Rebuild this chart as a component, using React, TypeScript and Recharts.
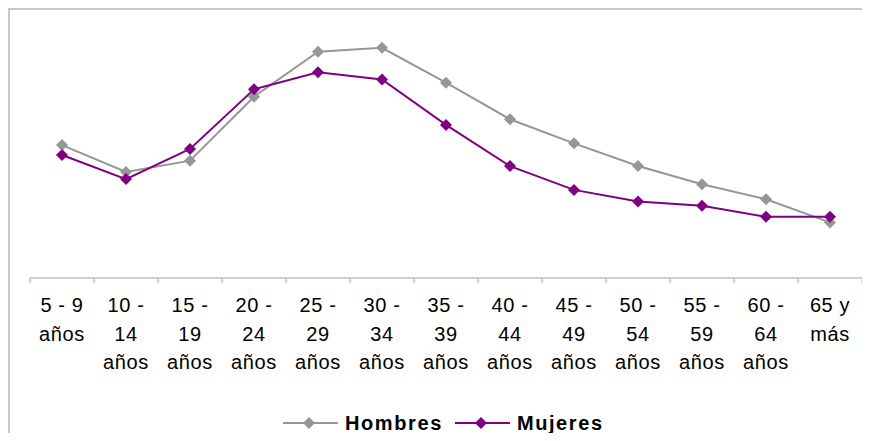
import React from 'react';
import { LineChart, Line, XAxis, YAxis } from 'recharts';

// age groups, one entry per category; lines shown under each tick
const ageGroups = [
  '5 - 9 años', '10 - 14 años', '15 - 19 años', '20 - 24 años', '25 - 29 años',
  '30 - 34 años', '35 - 39 años', '40 - 44 años', '45 - 49 años', '50 - 54 años',
  '55 - 59 años', '60 - 64 años', '65 y más',
];
const tickLines: string[][] = [
  ['5 - 9', 'años'], ['10 -', '14', 'años'], ['15 -', '19', 'años'], ['20 -', '24', 'años'],
  ['25 -', '29', 'años'], ['30 -', '34', 'años'], ['35 -', '39', 'años'], ['40 -', '44', 'años'],
  ['45 -', '49', 'años'], ['50 -', '54', 'años'], ['55 -', '59', 'años'], ['60 -', '64', 'años'],
  ['65 y', 'más'],
];

// estimated values (%)
const hombres = [6.09, 4.85, 5.37, 8.32, 10.4, 10.58, 8.97, 7.28, 6.17, 5.12, 4.28, 3.59, 2.52];
const mujeres = [5.63, 4.52, 5.91, 8.66, 9.45, 9.12, 7.02, 5.12, 4.02, 3.48, 3.29, 2.78, 2.78];

const boundaryTicks = [0, 1, 2, 3, 4, 5, 6, 7, 8, 9, 10, 11, 12, 13];

const GREY = '#969696';
const PURPLE = '#800080';
const FONT = '"Liberation Sans", Arial, sans-serif';

const data = ageGroups.map((name, i) => ({
  name,
  idx: i,
  hombres: hombres[i],
  mujeres: mujeres[i],
}));

const Diamond = (color: string) => (props: any) => {
  const { cx, cy, index } = props;
  if (cx == null || cy == null) return <g key={index} />;
  const r = 6;
  return (
    <polygon
      key={index}
      points={`${cx},${cy - r} ${cx + r},${cy} ${cx},${cy + r} ${cx - r},${cy}`}
      fill={color}
      stroke="none"
    />
  );
};

const AgeTick = (props: any) => {
  const { x, y, index } = props;
  const lines = tickLines[index] || [];
  return (
    <text x={x} y={y} textAnchor="middle" fill="#000" fontFamily={FONT} fontSize={20} letterSpacing={0.6}>
      {lines.map((l, i) => (
        <tspan key={i} x={x} dy={i === 0 ? 35 : 28.5}>
          {l}
        </tspan>
      ))}
    </text>
  );
};

function LegendItem({ color, label }: { color: string; label: string }) {
  return (
    <div style={{ display: 'flex', alignItems: 'center', marginRight: 12 }}>
      <svg width={55} height={14} style={{ display: 'block' }}>
        <line x1={0} y1={7} x2={55} y2={7} stroke={color} strokeWidth={2} />
        <polygon points="26,1 32,7 26,13 20,7" fill={color} />
      </svg>
      <span
        style={{
          marginLeft: 7,
          fontFamily: FONT,
          fontWeight: 'bold',
          fontSize: 20,
          letterSpacing: 1.6,
          color: '#000',
          lineHeight: '24px',
        }}
      >
        {label}
      </span>
    </div>
  );
}

export default function App() {
  return (
    <div
      style={{
        position: 'relative',
        width: 870,
        height: 441,
        margin: -8,
        overflow: 'hidden',
        background: '#fff',
      }}
    >
      <div
        style={{
          position: 'absolute',
          left: 8,
          top: 8,
          width: 920,
          height: 500,
          border: '2px solid #c8c8c8',
          boxSizing: 'border-box',
        }}
      />
      <div style={{ position: 'absolute', left: 0, top: 0 }}>
        <LineChart
          width={870}
          height={441}
          data={data}
          margin={{ top: 17, right: 8, left: 30, bottom: 162 }}
        >
          <XAxis
            xAxisId="grid"
            type="number"
            dataKey="idx"
            domain={[0, 13]}
            ticks={boundaryTicks}
            allowDataOverflow
            height={1}
            axisLine={{ stroke: '#c0c0c0', strokeWidth: 1.5 }}
            tickLine={{ stroke: '#c0c0c0', strokeWidth: 1.5 }}
            tickSize={5}
            tick={() => <g />}
          />
          <XAxis
            xAxisId="cat"
            dataKey="name"
            type="category"
            scale="band"
            height={1}
            axisLine={false}
            tickLine={false}
            tickSize={0}
            tickMargin={0}
            interval={0}
            tick={<AgeTick />}
          />
          <YAxis hide domain={[0, 12]} />
          <Line
            xAxisId="cat"
            dataKey="hombres"
            stroke={GREY}
            strokeWidth={2}
            dot={Diamond(GREY)}
            activeDot={false}
            isAnimationActive={false}
          />
          <Line
            xAxisId="cat"
            dataKey="mujeres"
            stroke={PURPLE}
            strokeWidth={2}
            dot={Diamond(PURPLE)}
            activeDot={false}
            isAnimationActive={false}
          />
        </LineChart>
      </div>
      <div
        style={{
          position: 'absolute',
          left: 283,
          top: 411,
          display: 'flex',
          alignItems: 'center',
        }}
      >
        <LegendItem color={GREY} label="Hombres" />
        <LegendItem color={PURPLE} label="Mujeres" />
      </div>
    </div>
  );
}
